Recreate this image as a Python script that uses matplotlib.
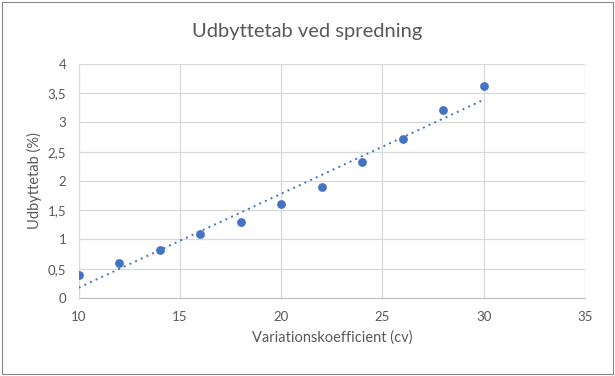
import matplotlib
matplotlib.use("Agg")
import matplotlib.pyplot as plt
from matplotlib.ticker import FuncFormatter, MultipleLocator
from matplotlib.patches import Rectangle
import numpy as np

# data
cv = [10, 12, 14, 16, 18, 20, 22, 24, 26, 28, 30]
loss = [0.4, 0.6, 0.82, 1.1, 1.3, 1.6, 1.9, 2.32, 2.72, 3.22, 3.62]

title = "Udbyttetab ved spredning"
x_label = "Variationskoefficient (cv)"
y_label = "Udbyttetab (%)"

plt.rcParams['font.family'] = ['Lato', 'DejaVu Sans']
txt = "#595959"
blue = "#4472C4"

fig = plt.figure(figsize=(6.15, 3.76), dpi=100)
ax = fig.add_axes([0.128, 0.2074, 0.823, 0.6226])

ax.scatter(cv, loss, s=40, color=blue, zorder=3, linewidths=0)

# linear trendline
k, m = np.polyfit(cv, loss, 1)
xs = np.array([min(cv), max(cv)])
ax.plot(xs, k * xs + m, linestyle=(0, (1, 2.2)), color=blue, linewidth=1.4, zorder=2)

ax.set_xlim(10, 35)
ax.set_ylim(0, 4)
ax.xaxis.set_major_locator(MultipleLocator(5))
ax.yaxis.set_major_locator(MultipleLocator(0.5))
ax.yaxis.set_major_formatter(FuncFormatter(lambda v, p: ('%g' % v).replace('.', ',')))
ax.grid(True, color="#d9d9d9", linewidth=0.9)
ax.set_axisbelow(True)
for s in ['top', 'right', 'left']:
    ax.spines[s].set_visible(False)
ax.spines['bottom'].set_color("#bfbfbf")
ax.tick_params(length=0, labelsize=9.5, colors=txt, pad=9)

ax.set_xlabel(x_label, fontsize=10.5, color=txt, labelpad=6)
ax.set_ylabel(y_label, fontsize=10.5, color=txt, labelpad=4)
fig.text(0.5, 0.915, title, ha='center', va='center', fontsize=14.5, color=txt)

# chart border
fig.patches.append(Rectangle((0.004, 0.006), 0.992, 0.988, transform=fig.transFigure,
                             fill=False, edgecolor="#868686", linewidth=0.8))

fig.savefig("out.png", dpi=100)
